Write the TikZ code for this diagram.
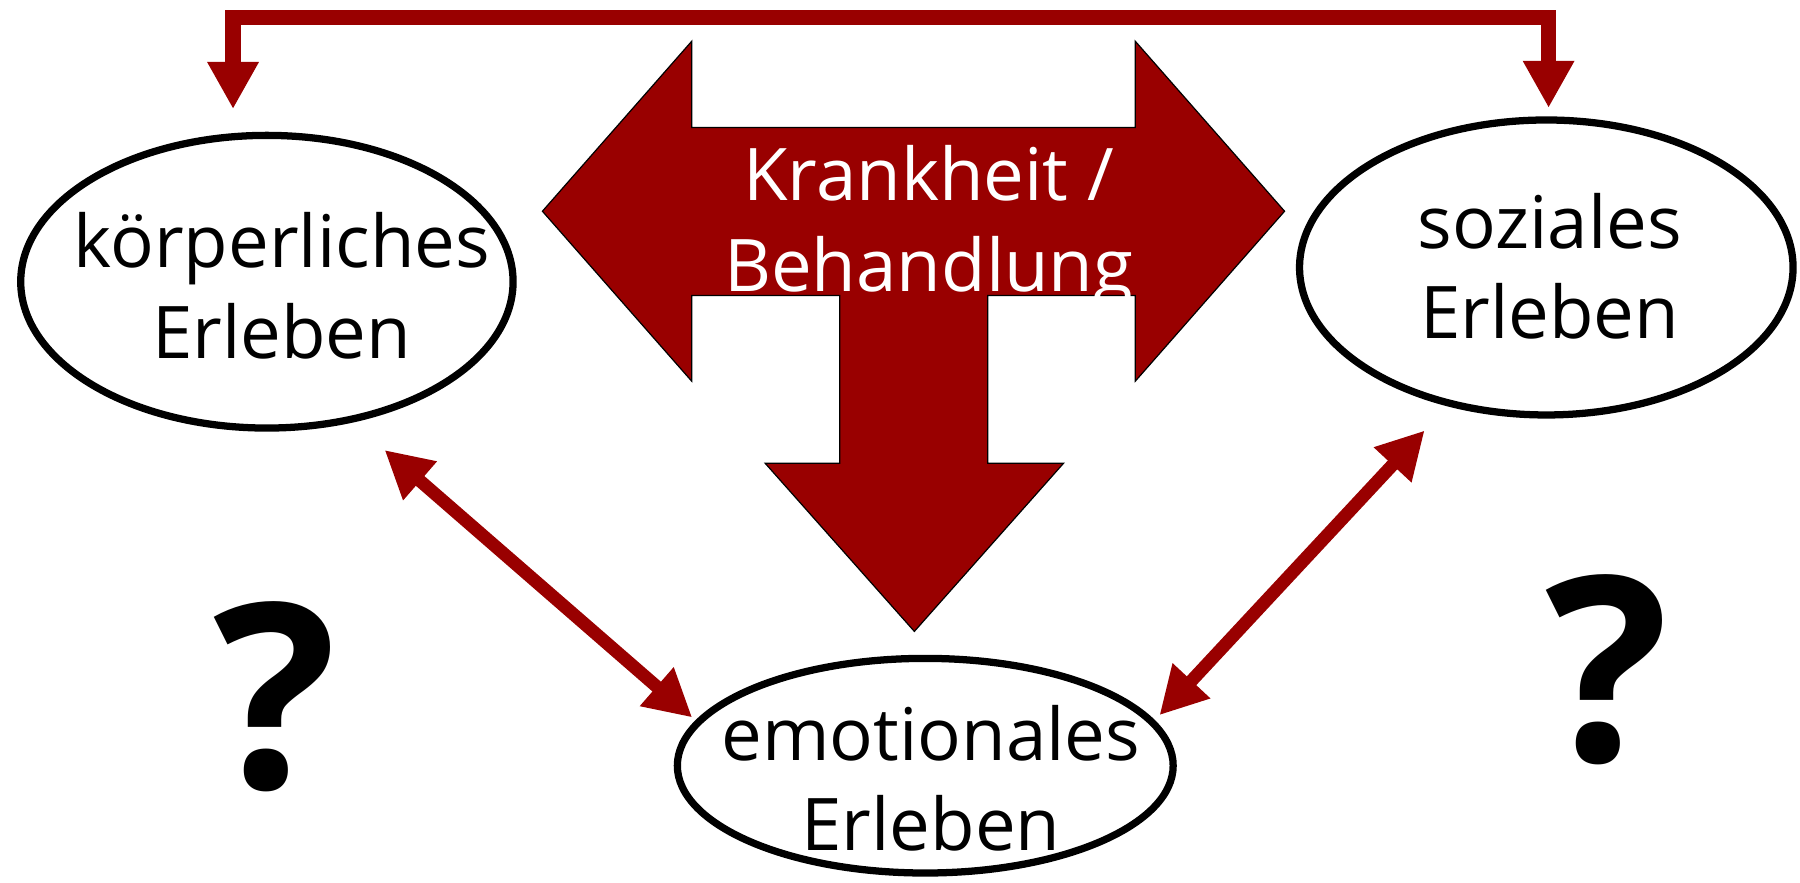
\documentclass[tikz,border=0pt]{standalone}
\usepackage{fontspec}
\setmainfont{Open Sans}
\usepackage{xcolor}
\usepackage{tikz}
\usetikzlibrary{shapes, calc, positioning, arrows.meta}
\definecolor{darkred}{RGB}{153,0,0}

\begin{document}
\begin{tikzpicture}[x=0.02cm, y=0.02cm]
		\tikzstyle{erleben}=[draw=black, ellipse, line width=3.6pt, inner sep=0pt]
		\tikzstyle{txt}=[align=center, inner sep=0pt, text=black, font=\fontsize{36}{45}\selectfont]
		\tikzstyle{frage}=[inner sep=0pt, font=\fontsize{128}{128}\selectfont\bfseries]
		\tikzstyle{wechsel}=[draw=darkred, line width=6.4pt, {Triangle[length=0.82cm, width=0.84cm]}-{Triangle[length=0.82cm, width=0.84cm]}]
		\tikzstyle{oben}=[draw=darkred, line width=7.6pt, {Triangle[length=0.82cm, width=0.84cm]}-{Triangle[length=0.82cm, width=0.84cm]}]
		
		\useasboundingbox (0,0) rectangle (1568,769);
		
		\draw[fill=darkred, draw=black, line width=0.6pt] (472.5,585) -- (602.5,733) -- (602.5,658) -- (989,658) -- (989,733) -- (1119,585) -- (989,437) -- (989,511.5) -- (860.5,511.5) -- (860.5,365.5) -- (926.5,365.5) -- (796.5,219) -- (666.5,365.5) -- (731.5,365.5) -- (731.5,511.5) -- (602.5,511.5) -- (602.5,437) -- cycle;
		\node (krank) at (809,571) [txt, text=white] {Krankheit /\\Behandlung};
		
		\node (koerper) at (232.5,523.6) [erleben, minimum width=8.58cm, minimum height=5.1cm] {};
		\node (sozial) at (1347,536) [erleben, minimum width=8.6cm, minimum height=5.14cm] {};
		\node (emot) at (806,102) [erleben, minimum width=8.64cm, minimum height=3.74cm] {};
		
		\node (koerpertxt) at ([shift={(13,-3.6)}]koerper.center) [txt] {körperliches\\Erleben};
		\node (sozialtxt) at ([shift={(3,1)}]sozial.center) [txt] {soziales\\Erleben};
		\node (emottxt) at ([shift={(5,-11)}]emot.center) [txt] {emotionales\\Erleben};
		
		\draw[oben] ([shift={(-29.5,150.4)}]koerper.center) -- ++(0,80) -| ([shift={(2,139)}]sozial.center);
		\draw[wechsel] ([shift={(102.5,-146.6)}]koerper.center) -- ([shift={(-203,42)}]emot.center);
		\draw[wechsel] ([shift={(-106,-142)}]sozial.center) -- ([shift={(204,44)}]emot.center);
		
		\node (frageL) at (239.5,162) [frage] {?};
		\node (frageR) at (1400,186) [frage] {?};
		
\end{tikzpicture}
\end{document}
